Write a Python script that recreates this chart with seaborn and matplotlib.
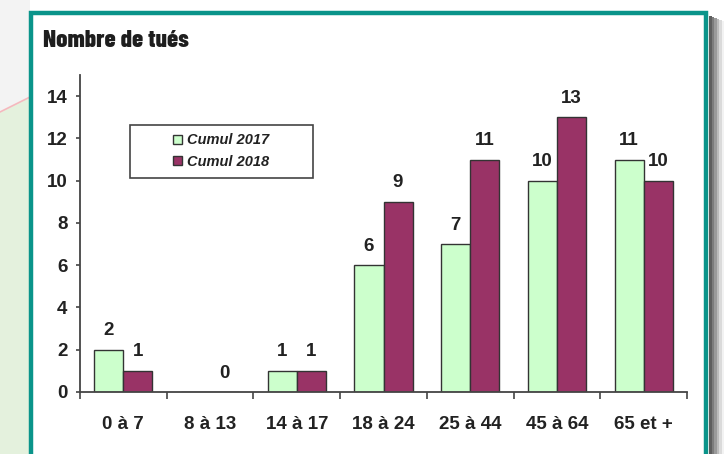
import matplotlib
matplotlib.use("Agg")
import matplotlib.pyplot as plt
from matplotlib import font_manager as fm
from matplotlib.patches import Rectangle, Polygon
import seaborn as sns
import pandas as pd
import numpy as np

categories = ["0 à 7", "8 à 13", "14 à 17", "18 à 24", "25 à 44", "45 à 64", "65 et +"]
cumul_2017 = [2, 0, 1, 6, 7, 10, 11]
cumul_2018 = [1, 0, 1, 9, 11, 13, 10]
series_names = ["Cumul 2017", "Cumul 2018"]
colors = ["#CCFFCC", "#993366"]
title = "Nombre de tués"
yticks = [0, 2, 4, 6, 8, 10, 12, 14]

sns.set_style("white")
plt.rcParams["font.family"] = ["Liberation Sans", "DejaVu Sans"]

df = pd.DataFrame({
    "cat": categories * 2,
    "val": cumul_2017 + cumul_2018,
    "serie": [series_names[0]] * len(categories) + [series_names[1]] * len(categories),
})

W, H = 724, 454
fig = plt.figure(figsize=(W / 100, H / 100), dpi=100)
fig.patch.set_facecolor("white")

fig.patches.append(Rectangle((0, 0), 30 / W, 1, transform=fig.transFigure,
                             facecolor="#E4F1DD", edgecolor="none", zorder=0))
fig.patches.append(Polygon([(0, 1), (30 / W, 1), (30 / W, 1 - 97 / H), (0, 1 - 112 / H)],
                           closed=True, transform=fig.transFigure,
                           facecolor="#F3F3F3", edgecolor="none", zorder=0.5))
fig.lines.append(plt.Line2D([0, 30 / W], [1 - 112 / H, 1 - 97 / H], transform=fig.transFigure,
                            color="#F5B8BE", lw=1.2, zorder=0.6))
for i, c in enumerate(["#5E5E5E", "#7C7C7C", "#9A9A9A", "#BBBBBB", "#DADADA", "#F2F2F2"]):
    fig.patches.append(Rectangle(((709 + i * 2.5) / W, 0), 2.5 / W, 1 - (16 + i) / H,
                                 transform=fig.transFigure, facecolor=c,
                                 edgecolor="none", zorder=0.4))
fig.patches.append(Rectangle((31 / W, -0.05), 675 / W, 1.05 - 13 / H, transform=fig.transFigure,
                             facecolor="white", edgecolor="#0A948A", lw=3.2, zorder=1))

ax = fig.add_axes([80 / W, (H - 392) / H, 607 / W, (392 - 75) / H])
ax.set_facecolor("none")
ax.set_zorder(2)

sns.barplot(data=df, x="cat", y="val", hue="serie", order=categories,
            hue_order=series_names, palette=colors, width=0.67, gap=0,
            edgecolor="#333333", linewidth=1.0, saturation=1, ax=ax, legend=False)

label_sets = [[str(v) if v > 0 else "" for v in cumul_2017],
              [str(v) for v in cumul_2018]]
for cont, labs in zip(ax.containers, label_sets):
    ax.bar_label(cont, labels=labs, padding=7.5, fontsize=13.5, fontweight="bold", color="#222222")

ax.set_ylim(0, 15)
ax.set_xlim(-0.5, len(categories) - 0.5)
ax.set_yticks(yticks)
ax.set_yticklabels([str(t) for t in yticks], fontsize=13.5, fontweight="bold", color="#222222")
ax.set_xticks(np.arange(len(categories) + 1) - 0.5)
ax.set_xticklabels([])
ax.set_xticks(np.arange(len(categories)), minor=True)
ax.set_xticklabels(categories, minor=True, fontsize=13.5, fontweight="bold", color="#222222")
ax.tick_params(axis="x", which="major", length=5, width=1.2, color="#444444", direction="out", bottom=True)
ax.tick_params(axis="x", which="minor", length=0, pad=17)
ax.tick_params(axis="y", length=3, width=1.2, color="#444444", pad=6, left=True)
ax.set_xlabel("")
ax.set_ylabel("")
for s in ["top", "right"]:
    ax.spines[s].set_visible(False)
for s in ["left", "bottom"]:
    ax.spines[s].set_color("#444444")
    ax.spines[s].set_linewidth(1.3)

ax.add_patch(Rectangle((50 / 607, (392 - 178) / 317), 183 / 607, 53 / 317, transform=ax.transAxes,
                       facecolor="white", edgecolor="#444444", lw=1.2, zorder=5))
handles = [cont.patches[0] for cont in ax.containers]
leg = ax.legend(handles, series_names, loc="center", bbox_to_anchor=(141 / 607, (392 - 151) / 317),
                frameon=False, handlelength=0.6, handleheight=0.6, handletextpad=0.3,
                labelspacing=0.5, prop={"size": 10.5, "weight": "bold", "style": "italic"})
leg.set_zorder(6)
for t in leg.get_texts():
    t.set_color("#222222")

# title: pick the installed heavy condensed face whose width is closest to the reference
keys = ("ondensed", "Narrow", "Cond")
cands = [f for f in fm.fontManager.ttflist
         if any(k in f.fname or k in f.name for k in keys)
         and any(w in f.fname for w in ("Bold", "Black", "Heavy", "ExtraBold"))
         and "Italic" not in f.fname and "Oblique" not in f.fname]
renderer = fig.canvas.get_renderer()
best = None
for f in cands:
    t = fig.text(0, 0, title, fontproperties=fm.FontProperties(fname=f.fname, size=17))
    wpx = t.get_window_extent(renderer).width
    t.remove()
    score = abs(wpx - 138)
    if best is None or score < best[0]:
        best = (score, f.fname)
if best is not None:
    tp = fm.FontProperties(fname=best[1], size=18)
    fig.text(43 / W, 1 - 47 / H, title, va="baseline", ha="left", fontproperties=tp,
             color="#1E1E1E", zorder=3)
else:
    fig.text(43 / W, 1 - 47 / H, title, fontsize=15, fontweight="bold", va="baseline",
             ha="left", color="#1E1E1E", zorder=3)

fig.savefig("out.png", dpi=100, facecolor=fig.get_facecolor())
